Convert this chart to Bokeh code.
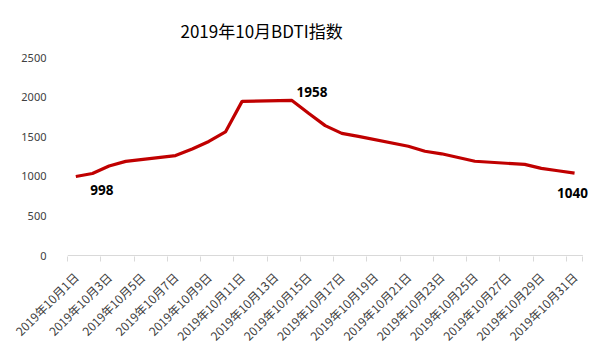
from bokeh.plotting import figure
from bokeh.models import FixedTicker, Range1d, Label
from bokeh.embed import file_html
from bokeh.resources import INLINE
import math

title_text = "2019年10月BDTI指数"
days = [1, 2, 3, 4, 7, 8, 9, 10, 11, 14, 15, 16, 17, 18, 21, 22, 23, 24, 25, 28, 29, 30, 31]
bdti = [998, 1035, 1130, 1188, 1262, 1345, 1440, 1560, 1946, 1958, 1796, 1640, 1542, 1505,
        1380, 1316, 1284, 1237, 1190, 1150, 1100, 1070, 1040]
tick_days = [1, 3, 5, 7, 9, 11, 13, 15, 17, 19, 21, 23, 25, 27, 29, 31]
tick_labels = ["2019年10月1日", "2019年10月3日", "2019年10月5日", "2019年10月7日",
               "2019年10月9日", "2019年10月11日", "2019年10月13日", "2019年10月15日",
               "2019年10月17日", "2019年10月19日", "2019年10月21日", "2019年10月23日",
               "2019年10月25日", "2019年10月27日", "2019年10月29日", "2019年10月31日"]
y_ticks = [0, 500, 1000, 1500, 2000, 2500]
labeled_days = [1, 14, 31]

CJK = "Noto Sans CJK SC"

p = figure(width=600, height=352, output_backend="svg", toolbar_location=None,
           x_range=Range1d(0.5, 32.5), y_range=Range1d(-12.5, 2500),
           min_border_left=67, min_border_right=1, min_border_top=57, min_border_bottom=94)
p.outline_line_color = None
p.xgrid.grid_line_color = None
p.ygrid.grid_line_color = None

p.title.text = title_text
p.title.text_font = CJK
p.title.text_font_size = "17px"
p.title.text_font_style = "normal"
p.title.text_color = "#000000"
p.title.align = "left"
p.title.offset = 113
p.title.standoff = 30

# baseline (x axis line) spanning only the month
p.segment(x0=[0.5], y0=[0], x1=[31.5], y1=[0], line_color="#d9d9d9", line_width=1)

p.line(days, bdti, line_color="#C00000", line_width=3.2)

offsets = {1: (26, -14), 14: (20, 8), 31: (-2, -20)}
for d in labeled_days:
    i = days.index(d)
    xo, yo = offsets[d]
    p.add_layout(Label(x=days[i], y=bdti[i], text=str(bdti[i]), x_offset=xo, y_offset=yo,
                       text_font="Noto Sans", text_font_style="bold", text_font_size="13.5px",
                       text_align="center", text_baseline="middle", text_color="#000000"))

xa = p.xaxis[0]
xa.ticker = FixedTicker(ticks=tick_days, minor_ticks=[d - 0.5 for d in tick_days] + [31.5])
xa.major_label_overrides = {d: l for d, l in zip(tick_days, tick_labels)}
xa.major_label_orientation = math.pi / 4
xa.major_label_text_font = CJK
xa.major_label_text_font_size = "12px"
xa.major_label_text_color = "#404040"
xa.major_tick_out = 0
xa.major_tick_in = 0
xa.minor_tick_out = 5
xa.minor_tick_in = 0
xa.minor_tick_line_color = "#d9d9d9"
xa.axis_line_color = None
xa.major_label_standoff = 13

ya = p.yaxis[0]
ya.ticker = FixedTicker(ticks=y_ticks)
ya.axis_line_color = None
ya.major_tick_line_color = None
ya.minor_tick_line_color = None
ya.major_label_text_font = "Noto Sans"
ya.major_label_text_font_size = "11px"
ya.major_label_text_color = "#404040"
ya.major_label_standoff = 15

open("out.html", "w").write(file_html(p, INLINE))
